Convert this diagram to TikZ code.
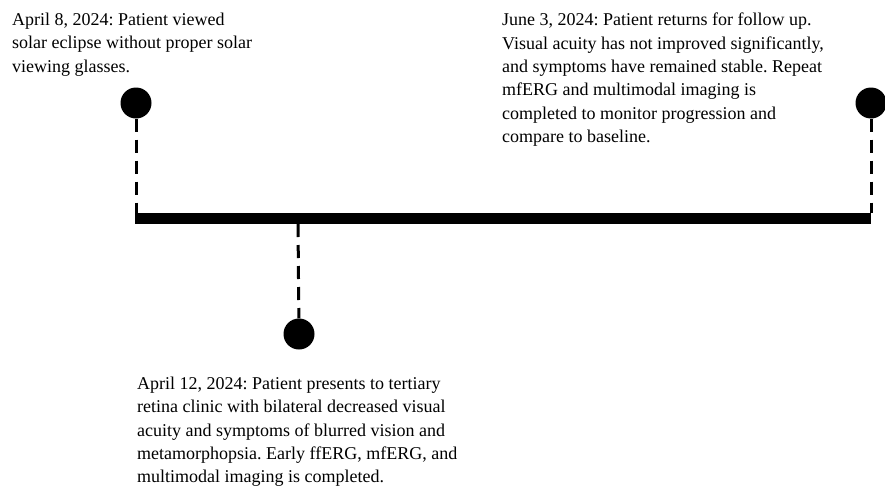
\documentclass[tikz,border=0pt]{standalone}
\usepackage{fontspec}
\setmainfont{Liberation Serif}
\frenchspacing
\tikzset{
  dot/.style={circle, fill=black, inner sep=0pt, minimum size=31pt},
  stem/.style={black, line width=3pt, dash pattern=on 13pt off 8pt},
  event/.style={anchor=north west, inner sep=0pt, align=left, font=\fontsize{18}{23.3}\selectfont}
}
\begin{document}
\begin{tikzpicture}[x=1pt, y=-1pt]
\useasboundingbox (0,0) rectangle (885,490);

% main time line
\coordinate (bar start) at (135,218.5);
\coordinate (bar end) at (871,218.5);
\draw[black, line width=11pt] (bar start) -- (bar end);

% April 8
\node[dot] (eclipse) at (136,103) {};
\coordinate (eclipse foot) at (136,213);
\draw[stem] (eclipse) -- (eclipse foot);
\node[event] (eclipse text) at (12,13) {April 8, 2024: Patient viewed\\solar eclipse without proper solar\\viewing glasses.};

% April 12
\node[dot] (clinic) at (299,334) {};
\coordinate (clinic top) at (298,224);
\draw[stem] (clinic top) -- (clinic);
\node[event] (clinic text) at (137,377) {April 12, 2024: Patient presents to tertiary\\retina clinic with bilateral decreased visual\\acuity and symptoms of blurred vision and\\metamorphopsia. Early ffERG, mfERG, and\\multimodal imaging is completed.};

% June 3
\node[dot] (followup) at (871,103) {};
\coordinate (followup foot) at (871,213);
\draw[stem] (followup) -- (followup foot);
\node[event] (followup text) at (502,13) {June 3, 2024: Patient returns for follow up.\\Visual acuity has not improved significantly,\\and symptoms have remained stable. Repeat\\mfERG and multimodal imaging is\\completed to monitor progression and\\compare to baseline.};
\end{tikzpicture}
\end{document}
